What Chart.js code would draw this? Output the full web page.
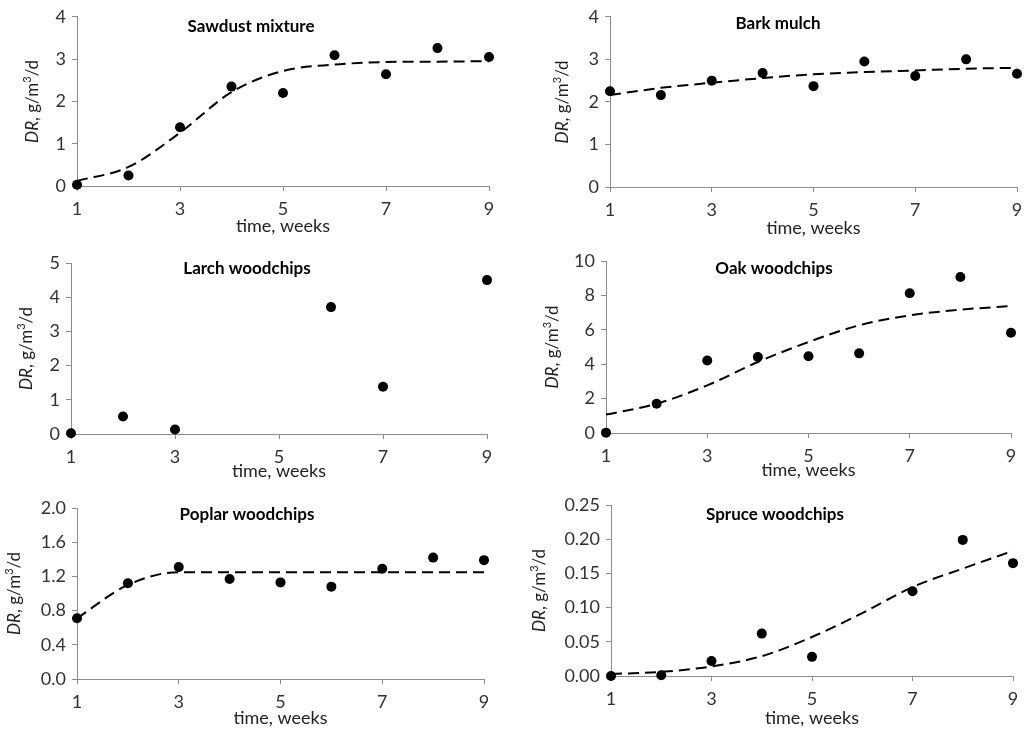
<!DOCTYPE html>
<html>
<head>
<meta charset="utf-8">
<script src="https://cdn.jsdelivr.net/npm/chart.js@4/dist/chart.umd.min.js"></script>
<style>
  body { margin: 0; background: #fff; }
  #wrap { position: relative; width: 1030px; height: 733px; overflow: hidden; }
  .panel { position: absolute; }
</style>
</head>
<body>
<div id="wrap"></div>
<script>
// weeks of measurement
const weeks = [1, 2, 3, 4, 5, 6, 7, 8, 9];

// measured denitrification rate (null = no point)
const sawdustPts = [0.03, 0.25, 1.39, 2.35, 2.20, 3.09, 2.64, 3.26, 3.05];
const barkPts    = [2.25, 2.16, 2.50, 2.68, 2.37, 2.95, 2.61, 3.00, 2.66];
const larchPts   = [0.02, 0.51, 0.13, null, null, 3.71, 1.38, null, 4.50];
const oakPts     = [0.02, 1.70, 4.22, 4.42, 4.46, 4.63, 8.12, 9.07, 5.83];
const poplarPts  = [0.71, 1.12, 1.31, 1.17, 1.13, 1.08, 1.29, 1.42, 1.39];
const sprucePts  = [0.000, 0.001, 0.022, 0.062, 0.028, null, 0.124, 0.199, 0.165];

// fitted curves
const sawdustFit = [0.12, 0.45, 1.26, 2.22, 2.72, 2.87, 2.93, 2.94, 2.95];
const barkFit    = [2.16, 2.33, 2.45, 2.56, 2.65, 2.70, 2.74, 2.78, 2.80];
const larchFit   = null;
const oakFit     = [1.07, 1.70, 2.77, 4.13, 5.29, 6.26, 6.84, 7.17, 7.38];
const poplarFit  = [0.71, 1.10, 1.25, 1.25, 1.25, 1.25, 1.25, 1.25, 1.25];
const spruceFit  = [0.003, 0.006, 0.014, 0.029, 0.057, 0.092, 0.130, 0.157, 0.183];

const titles = ['Sawdust mixture', 'Bark mulch', 'Larch woodchips', 'Oak woodchips', 'Poplar woodchips', 'Spruce woodchips'];
const yMax   = [4, 4, 5, 10, 2.0, 0.25];
const yStep  = [1, 1, 1, 2, 0.4, 0.05];
const yDec   = [0, 0, 0, 0, 1, 2];
const xTicks = [1, 3, 5, 7, 9];

const points = [sawdustPts, barkPts, larchPts, oakPts, poplarPts, sprucePts];
const fits   = [sawdustFit, barkFit, larchFit, oakFit, poplarFit, spruceFit];

// canvas box [left, top, width, height] and plot area [left, top, right, bottom]
const boxes = [
  [0, 0, 510, 240],   [510, 0, 520, 240],
  [0, 240, 510, 240], [510, 240, 520, 240],
  [0, 480, 510, 253], [510, 480, 520, 253]
];
const areas = [
  [77, 13, 489, 186],  [610, 16, 1017, 187],
  [71, 263, 487, 434], [606, 261, 1011, 433],
  [77, 508, 484, 679], [611, 505, 1013, 676]
];
const titleX  = [174, 168, 176, 168, 170, 164];
const titleY  = [10, 7, 6, 8, 7, 10];
const yTitleX = [44, 47, 44, 53, 62, 71];
const xTitleY = [40, 41, 37, 37, 39, 42];

const FONT = 'Lato, "Open Sans", sans-serif';
const AXIS = '#8c8c8c';

const panelText = {
  id: 'panelText',
  afterDraw(chart, args, o) {
    const ctx = chart.ctx;
    const a = chart.chartArea;
    ctx.save();
    ctx.fillStyle = '#000';
    ctx.textBaseline = 'middle';
    ctx.textAlign = 'center';
    ctx.font = 'bold 17px ' + FONT;
    ctx.fillText(o.title, a.left + o.titleX, a.top + o.titleY);

    ctx.fillStyle = '#222';
    ctx.font = '18px ' + FONT;
    ctx.fillText('time, weeks', (a.left + a.right) / 2, a.bottom + o.xTitleY);

    // y title with italic DR and superscript 3
    const parts = [
      { t: 'DR', f: 'italic 17px ' + FONT, dy: 0 },
      { t: ', g/m', f: '17px ' + FONT, dy: 0 },
      { t: '3', f: '11px ' + FONT, dy: -6 },
      { t: '/d', f: '17px ' + FONT, dy: 0 }
    ];
    let total = 0;
    parts.forEach(p => { ctx.font = p.f; p.w = ctx.measureText(p.t).width; total += p.w; });
    ctx.translate(a.left - o.yTitleX, (a.top + a.bottom) / 2);
    ctx.rotate(-Math.PI / 2);
    ctx.textAlign = 'left';
    let x = -total / 2;
    parts.forEach(p => { ctx.font = p.f; ctx.fillText(p.t, x, p.dy); x += p.w; });
    ctx.restore();
  }
};

const wrap = document.getElementById('wrap');

for (let i = 0; i < 6; i++) {
  const [bl, bt, bw, bh] = boxes[i];
  const [al, at, ar, ab] = areas[i];
  const div = document.createElement('div');
  div.className = 'panel';
  div.style.left = bl + 'px';
  div.style.top = bt + 'px';
  div.style.width = bw + 'px';
  div.style.height = bh + 'px';
  const canvas = document.createElement('canvas');
  div.appendChild(canvas);
  wrap.appendChild(div);

  const pts = [];
  weeks.forEach((w, k) => { if (points[i][k] !== null) pts.push({ x: w, y: points[i][k] }); });
  const datasets = [{
    data: pts,
    showLine: false,
    pointRadius: 5,
    pointHoverRadius: 5,
    pointBackgroundColor: '#000',
    pointBorderColor: '#000',
    pointBorderWidth: 0,
    clip: false,
    order: 0
  }];
  if (fits[i]) {
    datasets.push({
      data: weeks.map((w, k) => ({ x: w, y: fits[i][k] })),
      showLine: true,
      pointRadius: 0,
      borderColor: '#000',
      borderWidth: 2,
      borderDash: [11, 6],
      cubicInterpolationMode: 'monotone',
      clip: false,
      order: 1
    });
  }

  new Chart(canvas, {
    type: 'scatter',
    data: { datasets: datasets },
    plugins: [panelText],
    options: {
      responsive: true,
      maintainAspectRatio: false,
      animation: false,
      events: [],
      layout: { padding: { left: 0, top: at - bt, right: bl + bw - ar, bottom: 0 } },
      plugins: {
        legend: { display: false },
        tooltip: { enabled: false },
        panelText: { title: titles[i], titleX: titleX[i], titleY: titleY[i], yTitleX: yTitleX[i], xTitleY: xTitleY[i] }
      },
      scales: {
        x: {
          type: 'linear',
          min: 1,
          max: 9,
          afterBuildTicks: s => { s.ticks = xTicks.map(v => ({ value: v })); },
          afterFit: s => { s.height = bt + bh - ab; },
          border: { color: AXIS, width: 1 },
          grid: { display: true, drawOnChartArea: false, tickLength: 5, color: AXIS },
          ticks: { color: '#333', font: { family: FONT, size: 18 }, padding: 7, maxRotation: 0 }
        },
        y: {
          min: 0,
          max: yMax[i],
          afterFit: s => { s.width = al - bl; },
          border: { color: AXIS, width: 1 },
          grid: { display: true, drawOnChartArea: false, tickLength: 5, color: AXIS },
          ticks: {
            stepSize: yStep[i],
            color: '#333',
            font: { family: FONT, size: 18 },
            padding: 6,
            callback: v => Number(v).toFixed(yDec[i])
          }
        }
      }
    }
  });
}
</script>
</body>
</html>
